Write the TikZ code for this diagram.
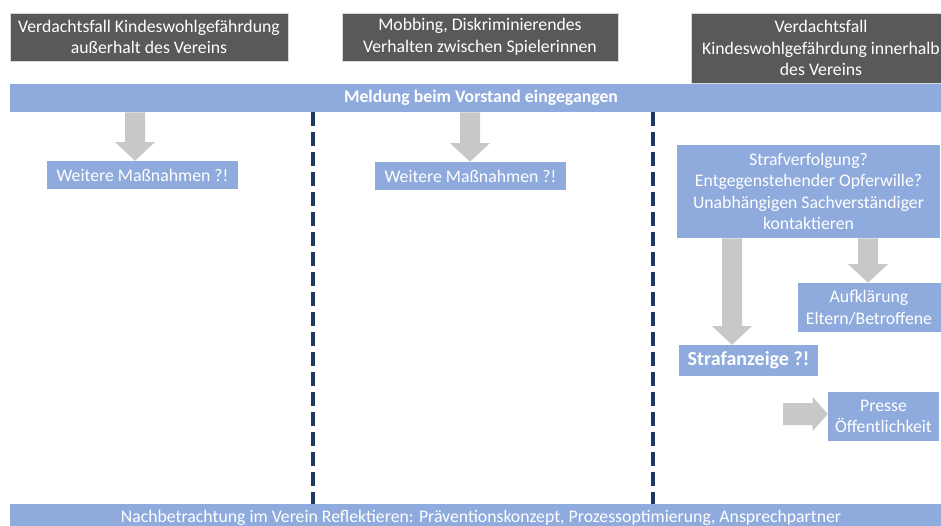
\documentclass[tikz,border=0pt]{standalone}
\usepackage{fontspec}
\setmainfont{Carlito}
\usetikzlibrary{calc}
\definecolor{darkbox}{HTML}{595959}
\definecolor{bluebox}{HTML}{8FAADC}
\definecolor{arrowgray}{HTML}{C8C8C8}
\definecolor{navyline}{HTML}{203864}
\newcommand\blockdown[3]{%
  \fill[arrowgray] let \p1=(#2.south -| #1,0), \p2=(#3.north -| #1,0) in
    (\x1-7.5pt,\y1) -- (\x1+7.5pt,\y1) -- (\x1+7.5pt,\y2+14pt) -- (\x1+15pt,\y2+14pt)
    -- (\x1,\y2) -- (\x1-15pt,\y2+14pt) -- (\x1-7.5pt,\y2+14pt) -- cycle;}
\begin{document}
\begin{tikzpicture}[x=0.75pt,y=-0.75pt,
  txt/.style={font=\fontsize{13.3}{16.2}\selectfont},
  darkbox/.style={txt, fill=darkbox, draw=black!15, line width=0.75pt, text=white, align=center, inner sep=0pt},
  bluebox/.style={txt, fill=bluebox, text=white, align=center, inner sep=0pt},
  sepline/.style={draw=navyline, line width=3pt, dash pattern=on 10.5pt off 4.5pt}]
\useasboundingbox (0,0) rectangle (941,525);
\clip (0,0) rectangle (941,525);
\fill[white] (0,0) rectangle (941,525);

% headers
\node[darkbox, minimum width=208.5pt, minimum height=36pt] (c1) at (149,37)
  {Verdachtsfall Kindeswohlgefährdung\\außerhalt des Vereins};
\node[darkbox, minimum width=207pt, minimum height=36pt] (c2) at (480,37)
  {Mobbing, Diskriminierendes\\Verhalten zwischen Spielerinnen};
\node[darkbox, minimum width=195pt, minimum height=52.5pt] (c3) at (821,48)
  {Verdachtsfall\\Kindeswohlgefährdung innerhalb\\des Vereins};

% bars
\node[bluebox, font=\fontsize{13.3}{16.2}\selectfont\bfseries, minimum width=706.5pt, minimum height=21pt] (meld) at (481,98)
  {Meldung beim Vorstand eingegangen};
\node[bluebox, minimum width=706.5pt, minimum height=21pt] (nach) at (481,518)
  {Nachbetrachtung im Verein Reflektieren: Präventionskonzept, Prozessoptimierung, Ansprechpartner};

% column boxes
\node[bluebox, minimum width=143.25pt, minimum height=21pt] (w1) at (142.5,175) {Weitere Maßnahmen ?!};
\node[bluebox, minimum width=143.25pt, minimum height=21pt] (w2) at (470.5,176) {Weitere Maßnahmen ?!};
\node[bluebox, minimum width=197.25pt, minimum height=69.75pt] (straf) at (808.5,191.5)
  {Strafverfolgung?\\Entgegenstehender Opferwille?\\Unabhängigen Sachverständiger\\kontaktieren};
\node[bluebox, minimum width=107.25pt, minimum height=36.75pt] (auf) at (869,307.5)
  {Aufklärung\\Eltern/Betroffene};
\node[bluebox, font=\fontsize{15}{17}\selectfont\bfseries, minimum width=104.25pt, minimum height=23.25pt] (anz) at (748.5,360.5)
  {Strafanzeige ?!};
\node[bluebox, minimum width=83.25pt, minimum height=36.75pt] (presse) at (883.5,416.5)
  {Presse\\Öffentlichkeit};

% dashed separators
\draw[sepline] (meld.south -| 313,0) -- (nach.north -| 313,0);
\draw[sepline] (meld.south -| 653,0) -- (nach.north -| 653,0);

% block arrows
\blockdown{135}{meld}{w1}
\blockdown{470}{meld}{w2}
\blockdown{732}{straf}{anz}
\blockdown{868}{straf}{auf}
\coordinate (pstart) at (783,414);
\fill[arrowgray] let \p1=(pstart), \p2=(presse.west |- pstart) in
  (\x1,\y1+8.25pt) -- (\x2-11.25pt,\y1+8.25pt) -- (\x2-11.25pt,\y1+12.75pt) -- (\x2,\y1)
  -- (\x2-11.25pt,\y1-12.75pt) -- (\x2-11.25pt,\y1-8.25pt) -- (\x1,\y1-8.25pt) -- cycle;
\end{tikzpicture}
\end{document}
